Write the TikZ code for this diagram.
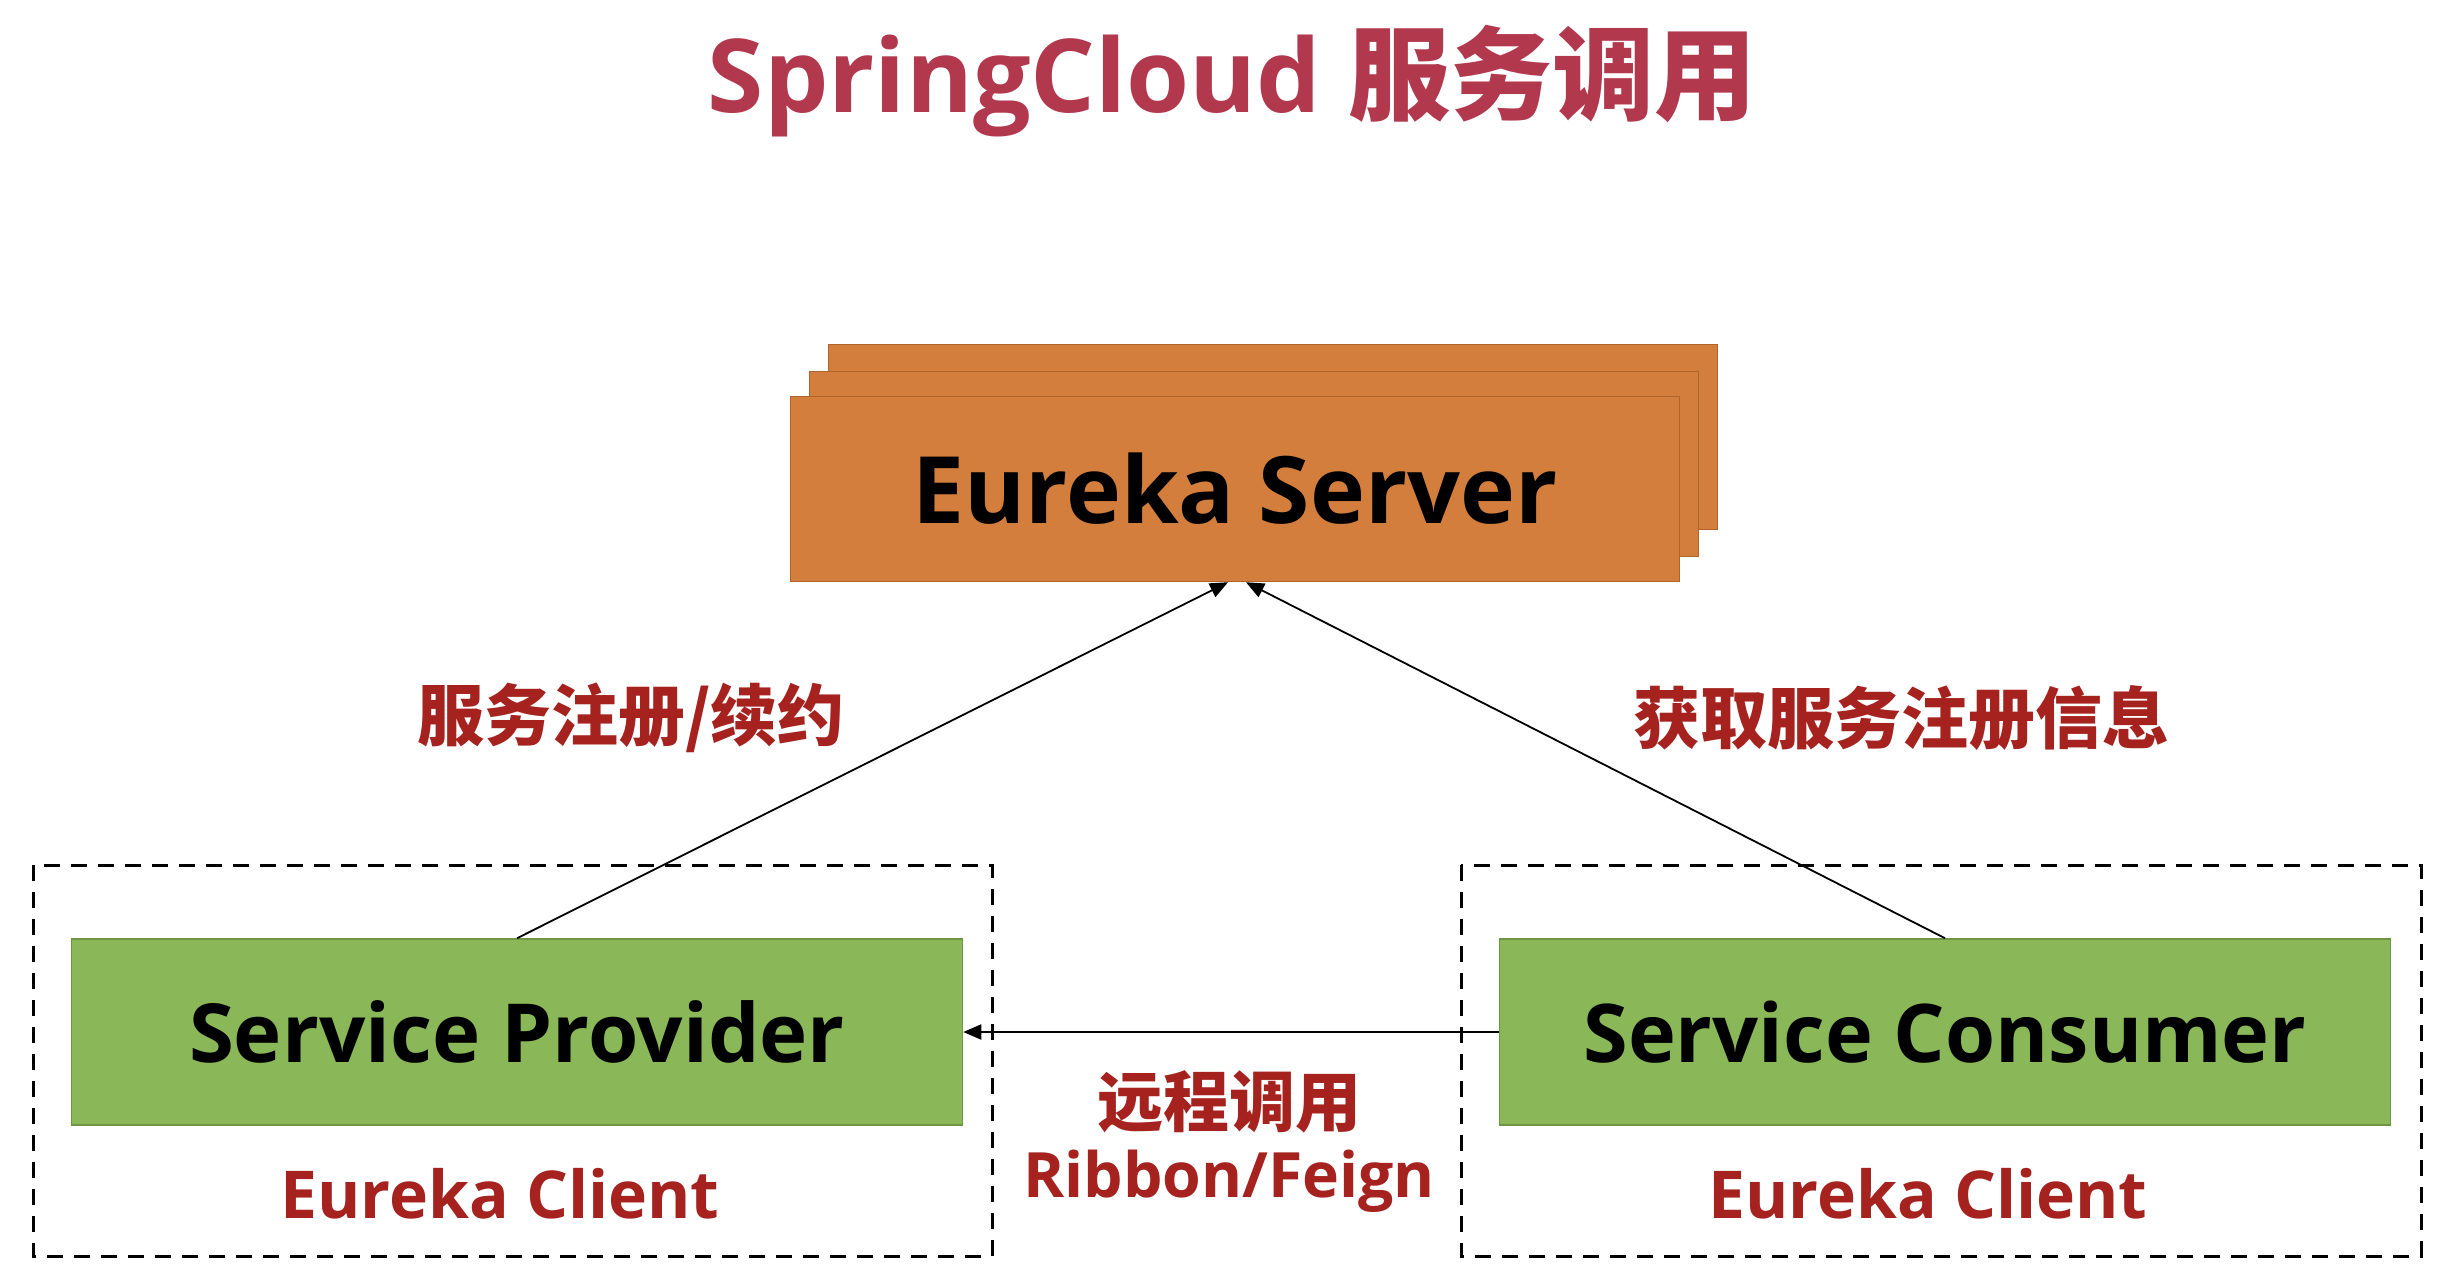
\documentclass[tikz,border=0pt]{standalone}
\usepackage{fontspec}
\setmainfont{Open Sans}
\newfontfamily\cjk{Noto Sans CJK SC}
\usetikzlibrary{arrows.meta}
\definecolor{titlered}{RGB}{178,56,78}
\definecolor{labelred}{RGB}{165,34,30}
\definecolor{serverfill}{RGB}{211,126,60}
\definecolor{serverdraw}{RGB}{176,100,42}
\definecolor{greenfill}{RGB}{138,183,87}
\definecolor{greendraw}{RGB}{112,150,68}
\begin{document}
\begin{tikzpicture}[x=1pt,y=-1pt,
  serverbox/.style={draw=serverdraw,line width=1.5pt,fill=serverfill,minimum width=889pt,minimum height=185pt,inner sep=0pt},
  greenbox/.style={draw=greendraw,line width=1.5pt,fill=greenfill,minimum width=891pt,minimum height=186pt,inner sep=0pt},
  clientbox/.style={draw=black,line width=3pt,dash pattern=on 16pt off 11pt},
  conn/.style={draw=black,line width=1.8pt,-{Triangle[length=18pt,width=15pt]}},
  boxtext/.style={font=\fontsize{93}{100}\selectfont\bfseries,text=black},
  redlabel/.style={font=\fontsize{66}{72}\selectfont\bfseries,text=labelred,inner sep=0pt},
  cjklabel/.style={font=\cjk\fontsize{67}{72}\selectfont\bfseries,text=labelred,inner sep=0pt}]
\useasboundingbox (0,0) rectangle (2460,1268);
\fill[white] (0,0) rectangle (2460,1268);
% title
\node[anchor=base,inner sep=0pt,text=titlered] (title) at (1232,113)
  {\fontsize{102}{110}\selectfont\bfseries SpringCloud {\cjk 服务调用}};
% Eureka server stack
\node[serverbox] (back) at (1273,437) {};
\node[serverbox] (mid) at (1254,464) {};
\node[serverbox,boxtext] (front) at (1235,489) {Eureka Server};
% client boxes
\draw[clientbox] (33,865) rectangle (992,1256);
\draw[clientbox] (1461,865) rectangle (2421,1256);
\node[greenbox,boxtext,font=\fontsize{81.5}{90}\selectfont\bfseries] (prov) at (517,1032) {Service Provider};
\node[greenbox,boxtext,font=\fontsize{81}{90}\selectfont\bfseries] (cons) at (1945,1032) {Service Consumer};
\node[redlabel,anchor=base] (pcl) at (500,1218) {Eureka Client};
\node[redlabel,anchor=base] (ccl) at (1928,1218) {Eureka Client};
% connectors
\draw[conn] (prov.north) -- ([xshift=-7pt]front.south);
\draw[conn] (cons.north) -- ([xshift=11pt]front.south);
\draw[conn] (cons.west) -- (prov.east);
% labels
\node[cjklabel] (reg) at (631,718) {服务注册/续约};
\node[cjklabel] (fetch) at (1901,718) {获取服务注册信息};
\node[cjklabel,font=\cjk\fontsize{66}{72}\selectfont\bfseries] (remote) at (1229,1102) {远程调用};
\node[redlabel,anchor=base,font=\fontsize{62.5}{70}\selectfont\bfseries] (rib) at (1229,1197) {Ribbon/Feign};
\end{tikzpicture}
\end{document}
